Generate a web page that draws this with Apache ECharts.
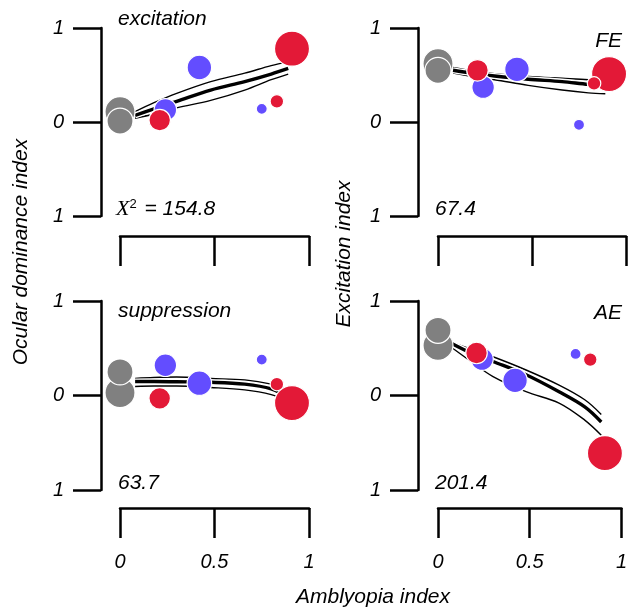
<!DOCTYPE html>
<html>
<head>
<meta charset="utf-8">
<script src="https://cdn.jsdelivr.net/npm/echarts@6/dist/echarts.min.js"></script>
<style>
  html, body { margin: 0; padding: 0; background: #fff; }
  #chart { width: 630px; height: 609px; }
</style>
</head>
<body>
<div id="chart"></div>
<script>
// 数据：各组的弱视指数 (x) 与四个面板的指标 (y)
const panelNames = ['excitation', 'FE', 'suppression', 'AE'];
const panelStats = ['154.8', '67.4', '63.7', '201.4'];

// 组顺序：对照(大), 对照(小), 蓝, 红, 蓝, 蓝(小), 红(大), 红(小)
const groupKind = ['control', 'control', 'blue', 'red', 'blue', 'blue', 'red', 'red'];
const groupX = [0, 0, 0.24, 0.21, 0.42, 0.75, 0.91, 0.83];
const groupWeight = [0.8, 0.64, 0.5, 0.46, 0.58, 0.04, 1.0, 0.14];

const excitationY = [0.11, 0.01, 0.13, 0.02, 0.58, 0.14, 0.78, 0.22];
const feY = [0.62, 0.55, 0.37, 0.55, 0.56, -0.03, 0.51, 0.41];
const suppressionY = [0.03, 0.25, 0.32, -0.03, 0.13, 0.38, -0.08, 0.12];
const aeY = [0.53, 0.69, 0.385, 0.45, 0.16, 0.44, -0.61, 0.38];

// 拟合曲线及其置信带
const fitX = [0.08, 0.18, 0.3, 0.48, 0.66, 0.8, 0.89];
const excitationFit = [0.07, 0.14, 0.22, 0.34, 0.43, 0.51, 0.57];
const excitationUpper = [0.11, 0.205, 0.305, 0.43, 0.52, 0.6, 0.64];
const excitationLower = [0.04, 0.085, 0.15, 0.23, 0.34, 0.45, 0.51];
const feFit = [0.55, 0.52, 0.49, 0.455, 0.43, 0.4, 0.39];
const feUpper = [0.58, 0.545, 0.515, 0.485, 0.465, 0.45, 0.445];
const feLower = [0.52, 0.485, 0.45, 0.39, 0.34, 0.31, 0.3];
const suppressionFit = [0.148, 0.148, 0.145, 0.14, 0.12, 0.07, -0.02];
const suppressionUpper = [0.18, 0.19, 0.195, 0.18, 0.165, 0.12, 0.06];
const suppressionLower = [0.095, 0.1, 0.1, 0.085, 0.06, 0.01, -0.06];
const aeFit = [0.545, 0.45, 0.36, 0.22, 0.04, -0.12, -0.28];
const aeUpper = [0.56, 0.49, 0.41, 0.27, 0.11, -0.045, -0.2];
const aeLower = [0.5, 0.36, 0.2, 0.04, -0.08, -0.26, -0.42];

const yTicks = [-1, 0, 1];
const xTicks = [0, 0.5, 1];

const panelY = [excitationY, feY, suppressionY, aeY];
const panelFit = [
    [excitationUpper, excitationLower, excitationFit],
    [feUpper, feLower, feFit],
    [suppressionUpper, suppressionLower, suppressionFit],
    [aeUpper, aeLower, aeFit]
];

const colors = { control: '#808080', red: '#e31937', blue: '#634dff' };
const FONT = '"Liberation Sans", Arial, sans-serif';

// 四个面板的布局
const grids = [
    { left: 120, top: 28, width: 189, height: 188 },
    { left: 438, top: 28, width: 188, height: 188 },
    { left: 120, top: 301, width: 189, height: 189 },
    { left: 438, top: 301, width: 188, height: 189 }
];
const yOffsets = [19, 20, 19, 20];
const xOffsets = [20, 20, 18, 18];

const chart = echarts.init(document.getElementById('chart'), null, { renderer: 'canvas' });

const lineStyle = { color: '#000', width: 2.5 };

const xAxes = grids.map((g, i) => ({
    gridIndex: i,
    type: 'value',
    min: xTicks[0],
    max: xTicks[xTicks.length - 1],
    interval: 0.5,
    position: 'bottom',
    offset: xOffsets[i],
    axisLine: { show: true, onZero: false, lineStyle: lineStyle },
    axisTick: { show: true, inside: false, length: 30, lineStyle: lineStyle },
    axisLabel: {
        show: i >= 2,
        margin: 44,
        fontFamily: FONT,
        fontStyle: 'italic',
        fontSize: 20,
        color: '#000',
        formatter: v => String(v)
    },
    splitLine: { show: false }
}));

const yAxes = grids.map((g, i) => ({
    gridIndex: i,
    type: 'value',
    min: yTicks[0],
    max: yTicks[yTicks.length - 1],
    interval: 1,
    position: 'left',
    offset: yOffsets[i],
    axisLine: { show: true, onZero: false, lineStyle: lineStyle },
    axisTick: { show: true, inside: false, length: 28, lineStyle: lineStyle },
    axisLabel: {
        margin: 37,
        fontFamily: FONT,
        fontStyle: 'italic',
        fontSize: 20,
        color: '#000',
        formatter: v => String(Math.abs(v))
    },
    splitLine: { show: false }
}));

const series = [];
panelY.forEach((ys, i) => {
    // 置信带与拟合线：先白色描边，再黑线
    panelFit[i].forEach((fit, k) => {
        const isCenter = k === 2;
        const pts = fitX.map((x, j) => [x, fit[j]]);
        [['#fff', isCenter ? 6 : 3.6], ['#000', isCenter ? 3.4 : 1.4]].forEach(st => {
            series.push({
                type: 'line',
                xAxisIndex: i,
                yAxisIndex: i,
                data: pts,
                smooth: 0.35,
                symbol: 'none',
                silent: true,
                lineStyle: { color: st[0], width: st[1] },
                z: 2
            });
        });
    });
    series.push({
        type: 'scatter',
        xAxisIndex: i,
        yAxisIndex: i,
        clip: false,
        z: 3,
        data: ys.map((y, j) => ({
            value: [groupX[j], y],
            symbolSize: 10 + 25 * groupWeight[j],
            itemStyle: { color: colors[groupKind[j]] }
        })),
        itemStyle: { borderColor: '#fff', borderWidth: 1.2, opacity: 1 }
    });
});

// 文本标注
const textEl = (text, x, y, align, extra) => ({
    type: 'text',
    x: x,
    y: y,
    style: Object.assign({
        text: text,
        font: 'italic 21px ' + FONT,
        fill: '#000',
        textAlign: align,
        textVerticalAlign: 'middle'
    }, extra || {})
});

const graphics = [
    textEl('excitation', 118, 19, 'left'),
    textEl('FE', 622, 41, 'right'),
    textEl('suppression', 118, 311, 'left'),
    textEl('AE', 622, 313, 'right'),
    {
        type: 'text',
        x: 116,
        y: 209,
        style: {
            text: '{x|X}{s|2} = ' + panelStats[0],
            font: 'italic 21px ' + FONT,
            fill: '#000',
            textAlign: 'left',
            textVerticalAlign: 'middle',
            rich: {
                x: { fontFamily: '"Liberation Serif", serif', fontStyle: 'italic', fontSize: 22, fill: '#000' },
                s: { fontFamily: FONT, fontSize: 13, fill: '#000', verticalAlign: 'top', padding: [0, 2, 8, 0] }
            }
        }
    },
    textEl(panelStats[1], 435, 209, 'left'),
    textEl(panelStats[2], 118, 483, 'left'),
    textEl(panelStats[3], 435, 483, 'left'),
    textEl('Amblyopia index', 373, 597, 'center'),
    Object.assign(textEl('Ocular dominance index', 21, 252, 'center'), { rotation: Math.PI / 2 }),
    Object.assign(textEl('Excitation index', 344, 254, 'center'), { rotation: Math.PI / 2 })
];

chart.setOption({
    animation: false,
    backgroundColor: '#fff',
    grid: grids,
    xAxis: xAxes,
    yAxis: yAxes,
    series: series,
    graphic: graphics
});
</script>
</body>
</html>
